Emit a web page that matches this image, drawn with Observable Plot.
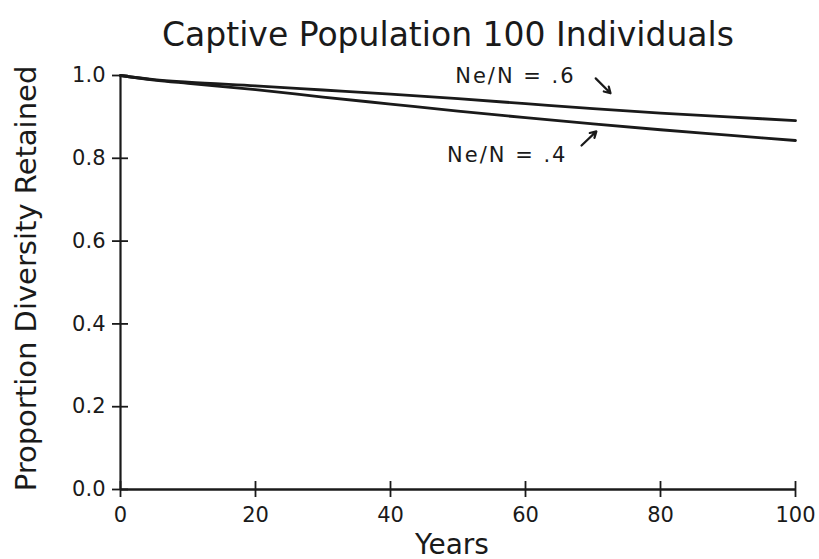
<!DOCTYPE html>
<html>
<head>
<meta charset="utf-8">
<script src="https://cdn.jsdelivr.net/npm/d3@7"></script>
<script src="https://cdn.jsdelivr.net/npm/@observablehq/plot@0.6"></script>
<style>
  html, body { margin: 0; padding: 0; background: #fff; }
  svg { overflow: visible; }
  .anno text { letter-spacing: 2px; }
</style>
</head>
<body>
<div id="chart"></div>
<script>
const titleText = "Captive Population 100 Individuals";
const xLabel = "Years";
const yLabel = "Proportion Diversity Retained";

const years = [0, 5, 10, 20, 30, 40, 50, 60, 70, 80, 90, 100];
const ne06 = [1.0, 0.990, 0.984, 0.975, 0.965, 0.955, 0.944, 0.932, 0.920, 0.909, 0.900, 0.891];
const ne04 = [1.0, 0.989, 0.981, 0.966, 0.948, 0.931, 0.914, 0.898, 0.883, 0.869, 0.856, 0.843];

const xTicks = [0, 20, 40, 60, 80, 100];
const yTicks = [0.0, 0.2, 0.4, 0.6, 0.8, 1.0];

const labelNames = ["Ne/N = .6", "Ne/N = .4"];
const labelX = [58.5, 57.3];
const labelY = [0.998, 0.807];
const arrowX1 = [70.4, 68.3];
const arrowY1 = [0.993, 0.831];
const arrowX2 = [72.6, 70.5];
const arrowY2 = [0.957, 0.865];

const lines = [
  ...years.map((t, i) => ({year: t, value: ne06[i], series: labelNames[0]})),
  ...years.map((t, i) => ({year: t, value: ne04[i], series: labelNames[1]}))
];
const labels = labelNames.map((n, i) => ({name: n, x: labelX[i], y: labelY[i]}));
const arrows = labelNames.map((n, i) => ({x1: arrowX1[i], y1: arrowY1[i], x2: arrowX2[i], y2: arrowY2[i]}));

const font = "'DejaVu Sans', 'Noto Sans', sans-serif";
const ink = "#1a1a1a";

const chart = Plot.plot({
  width: 819,
  height: 559,
  marginLeft: 120,
  marginRight: 24,
  marginTop: 75,
  marginBottom: 70,
  style: {fontFamily: font, fontSize: "21px", color: ink, background: "#fff"},
  x: {domain: [0, 100]},
  y: {domain: [0, 1]},
  marks: [
    Plot.axisX({ticks: xTicks, tickSize: 0, tickPadding: 18, fontSize: 21, label: null}),
    Plot.axisY({ticks: yTicks, tickSize: 0, tickPadding: 15, fontSize: 21, tickFormat: d3.format(".1f"), label: null}),
    Plot.ruleX(xTicks, {x: d => d, y1: 0, y2: 0, insetTop: -8, insetBottom: -8, stroke: ink, strokeWidth: 1.8}),
    Plot.ruleY(yTicks, {y: d => d, x1: 0, x2: 0, insetLeft: -8, insetRight: -8, stroke: ink, strokeWidth: 1.8}),
    Plot.ruleX([0], {stroke: ink, strokeWidth: 2.2}),
    Plot.ruleY([0], {stroke: ink, strokeWidth: 2.6}),
    Plot.line(lines, {x: "year", y: "value", z: "series", stroke: ink, strokeWidth: 2.8, curve: "monotone-x"}),
    Plot.text(labels, {x: "x", y: "y", text: "name", fontSize: 21, fill: ink, fontFamily: font, className: "anno"}),
    Plot.arrow(arrows, {x1: "x1", y1: "y1", x2: "x2", y2: "y2", stroke: ink, strokeWidth: 2.2, headLength: 5}),
    Plot.text([titleText], {frameAnchor: "top", lineAnchor: "bottom", dy: -30, dx: -10, fontSize: 33, fill: ink, fontFamily: font}),
    Plot.text([xLabel], {frameAnchor: "bottom", lineAnchor: "bottom", dy: 64, dx: -6, fontSize: 28, fill: ink, fontFamily: font}),
    Plot.text([yLabel], {frameAnchor: "left", textAnchor: "middle", lineAnchor: "bottom", rotate: -90, dx: -85, dy: -4, fontSize: 29, fill: ink, fontFamily: font})
  ]
});
document.getElementById("chart").appendChild(chart);
</script>
</body>
</html>
